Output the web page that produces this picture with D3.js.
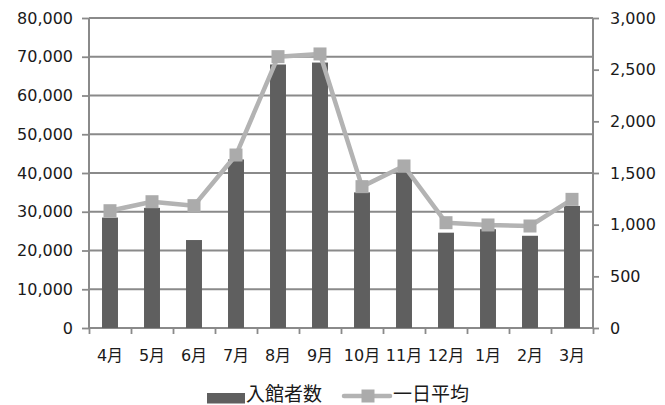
<!DOCTYPE html>
<html><head><meta charset="utf-8">
<script src="https://cdn.jsdelivr.net/npm/d3@7"></script>
<style>body{margin:0;background:#fff}svg{display:block}text{font-family:"DejaVu Sans","Noto Sans CJK JP",sans-serif;fill:#1a1a1a}</style>
</head><body><svg id="c" width="665" height="405"></svg>
<script>
const months = ["4月","5月","6月","7月","8月","9月","10月","11月","12月","1月","2月","3月"];
const visitors = [28500,31000,22700,43500,68000,68500,35000,40000,24600,25500,23800,31500];
const dailyAvg = [1135,1222,1184,1674,2626,2652,1368,1568,1019,997,987,1245];
const leftTicks = [0,10000,20000,30000,40000,50000,60000,70000,80000];
const rightTicks = [0,500,1000,1500,2000,2500,3000];
const seriesNames = ["入館者数","一日平均"];

const svg = d3.select("#c");
const L=89,R=593,T=18,B=328;
const x = d3.scaleBand().domain(months).range([L,R]).paddingInner(0.62).paddingOuter(0.31);
const yL = d3.scaleLinear().domain([0,80000]).range([B,T]);
const yR = d3.scaleLinear().domain([0,3000]).range([B,T]);
const grid="#8a8a8a", fmt=d3.format(",");

// gridlines
svg.append("g").selectAll("line").data(leftTicks.slice(1)).join("line")
  .attr("x1",L).attr("x2",R).attr("y1",d=>yL(d)).attr("y2",d=>yL(d))
  .attr("stroke",grid).attr("stroke-width",1.8);

// axes
const axL = svg.append("g").attr("transform",`translate(${L},0)`)
  .call(d3.axisLeft(yL).tickValues(leftTicks).tickFormat(fmt).tickSize(7).tickPadding(9));
const axR = svg.append("g").attr("transform",`translate(${R},0)`)
  .call(d3.axisRight(yR).tickValues(rightTicks).tickFormat(fmt).tickSize(6).tickPadding(11));
const xb = d3.scalePoint().domain(d3.range(13)).range([L,R]);
const axB = svg.append("g").attr("transform",`translate(0,${B})`)
  .call(d3.axisBottom(xb).tickSize(6).tickFormat(""));
[axL,axR,axB].forEach(a=>{
  a.selectAll("path").attr("stroke",grid).attr("stroke-width",2);
  a.selectAll("line").attr("stroke",grid).attr("stroke-width",1.8);
  a.selectAll("text").style("font-size","16px").attr("fill","#1a1a1a");
});
axB.select("path").attr("d",`M${L},0H${R}`);
axL.select("path").attr("d",`M0,${B}V${T}`);
axR.select("path").attr("d",`M0,${B}V${T}`);

// month labels
svg.append("g").selectAll("text").data(months).join("text")
  .attr("x",d=>x(d)+x.bandwidth()/2).attr("y",361).attr("text-anchor","middle")
  .style("font-size","16px").text(d=>d);

// bars
svg.append("g").selectAll("rect").data(visitors).join("rect")
  .attr("x",(d,i)=>x(months[i])).attr("width",x.bandwidth())
  .attr("y",d=>yL(d)).attr("height",d=>B-yL(d)).attr("fill","#5f5f5f");

// line
const cx=(i)=>x(months[i])+x.bandwidth()/2;
svg.append("path").datum(dailyAvg)
  .attr("d",d3.line().x((d,i)=>cx(i)).y(d=>yR(d)))
  .attr("fill","none").attr("stroke","#b3b3b3").attr("stroke-width",4.5).attr("stroke-linejoin","round");
const ms=13;
svg.append("g").selectAll("rect").data(dailyAvg).join("rect")
  .attr("x",(d,i)=>cx(i)-ms/2).attr("y",d=>yR(d)-ms/2).attr("width",ms).attr("height",ms)
  .attr("fill","#ababab");

// legend
const lg=svg.append("g");
lg.append("rect").attr("x",207).attr("y",393).attr("width",38).attr("height",10.5).attr("fill","#5f5f5f");
lg.append("text").attr("x",246).attr("y",401).style("font-size","19px").text(seriesNames[0]);
lg.append("line").attr("x1",344).attr("x2",390).attr("y1",396).attr("y2",396).attr("stroke","#b3b3b3").attr("stroke-width",4.5).attr("stroke-linecap","round");
lg.append("rect").attr("x",368-ms/2).attr("y",396-ms/2).attr("width",ms).attr("height",ms).attr("fill","#ababab");
lg.append("text").attr("x",393).attr("y",401).style("font-size","19px").text(seriesNames[1]);
</script></body></html>
